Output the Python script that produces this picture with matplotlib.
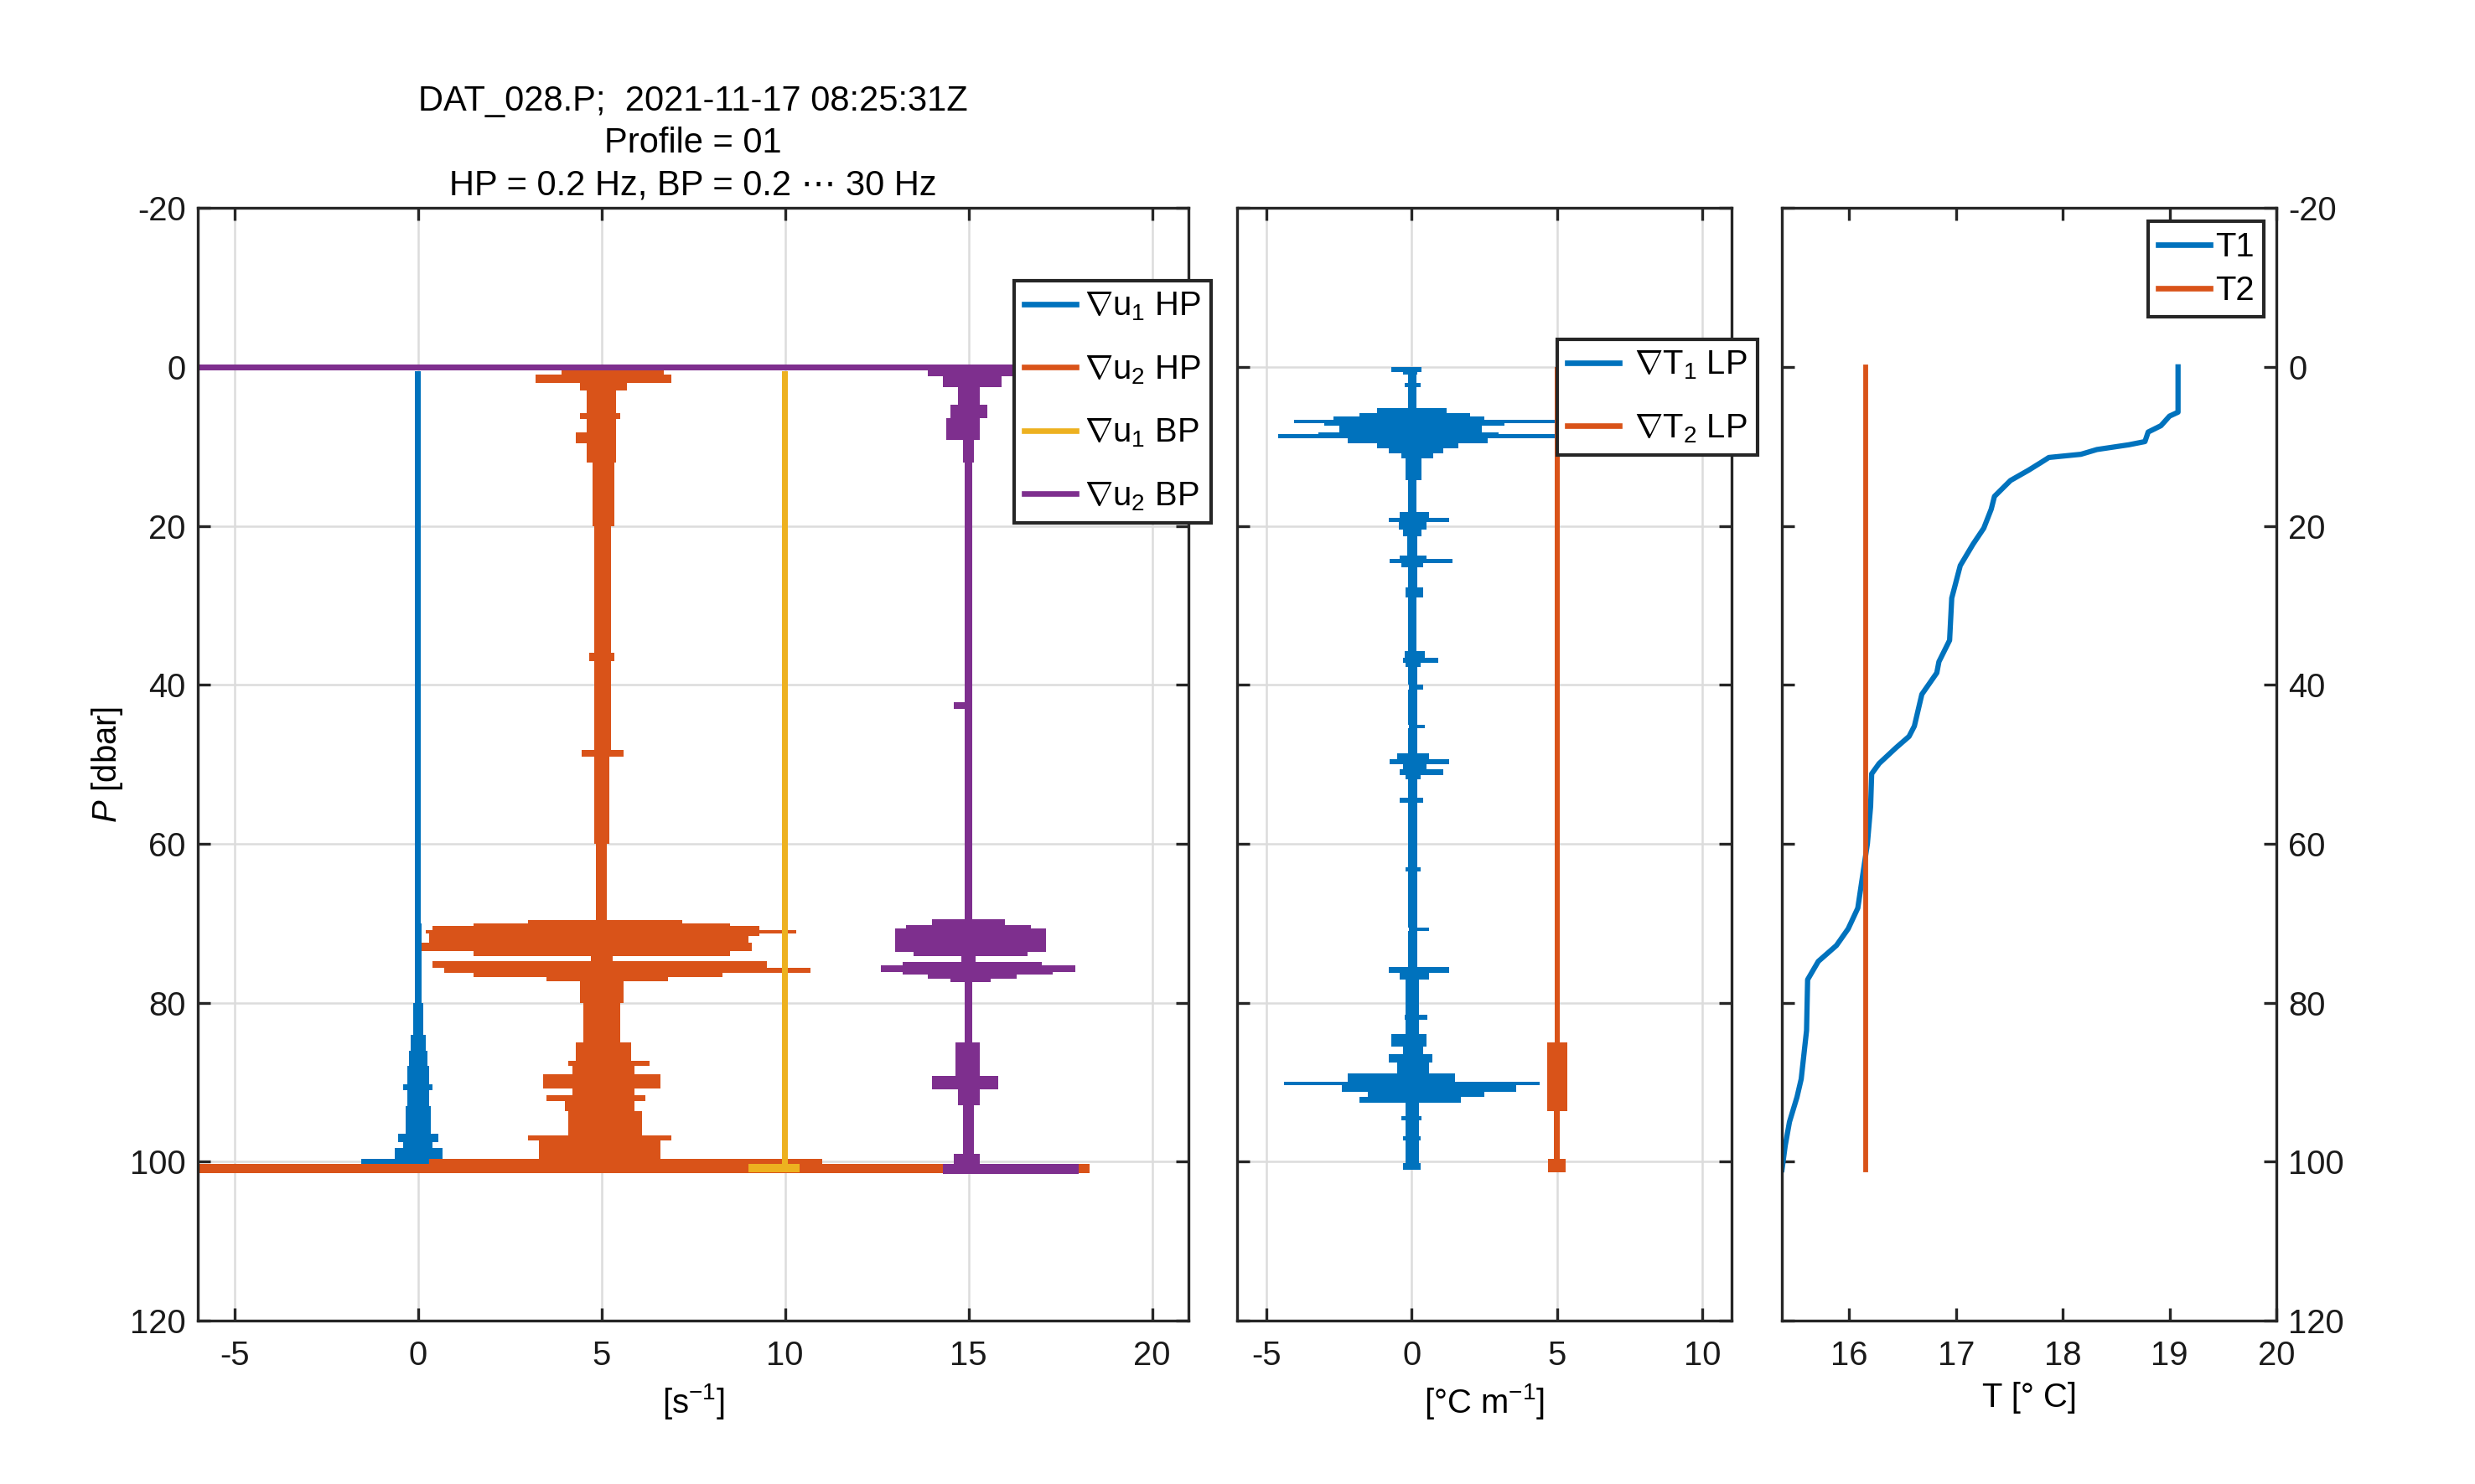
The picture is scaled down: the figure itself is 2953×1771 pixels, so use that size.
import numpy as np
import matplotlib
matplotlib.use('Agg')
import matplotlib.pyplot as plt
from matplotlib.lines import Line2D

plt.rcParams['font.family'] = ['Liberation Sans', 'DejaVu Sans']
plt.rcParams['mathtext.fontset'] = 'custom'
plt.rcParams['mathtext.rm'] = 'Liberation Sans'
plt.rcParams['mathtext.it'] = 'Liberation Sans:italic'
plt.rcParams['mathtext.fallback'] = 'cm'
plt.rcParams['axes.unicode_minus'] = False
plt.rcParams['font.size'] = 9.6

# cores padrao do MATLAB
C_BLUE = '#0072BD'
C_ORANGE = '#D95319'
C_YELLOW = '#EDB120'
C_PURPLE = '#7E2F8E'
C_AX = '#262626'

# --- dados (envelopes: inicio de cada trecho em P, limites esq./dir.) ---

# gradiente de cisalhamento, u1 HP (offset 0)
p_u1hp = [0.5, 70, 80, 84, 86, 88, 90.3, 91, 93, 96.5, 97.5, 98.3, 99.7, 100.4]
lo_u1hp = [-0.08, -0.1, -0.14, -0.2, -0.25, -0.3, -0.4, -0.3, -0.35, -0.54, -0.4, -0.63, -1.55]
hi_u1hp = [0.08, 0.1, 0.14, 0.2, 0.25, 0.3, 0.4, 0.3, 0.35, 0.54, 0.4, 0.66, 0.66]

# u2 HP (offset 5)
p_u2hp = [0.2, 1.0, 2.0, 3.0, 5.8, 6.6, 8.2, 9.6, 12, 20, 36, 37, 48.2, 49, 60, 69.6,
          70.0, 70.3, 70.9, 71.3, 71.6, 72.4, 73.5, 74.1, 74.8, 75.6, 76.2, 76.8, 77.3,
          80, 85, 87.3, 88, 89, 90.8, 91.6, 92.4, 93.6, 96.7, 97.3, 99.7, 100.3, 101.4]
lo_u2hp = [3.9, 3.2, 4.4, 4.6, 4.4, 4.6, 4.3, 4.6, 4.75, 4.8, 4.65, 4.8, 4.45, 4.8, 4.85, 3.0,
           1.5, 0.4, 0.2, 0.3, 0.3, 0.1, 1.5, 4.7, 0.4, 0.7, 1.5, 3.5, 4.4,
           4.5, 4.3, 4.1, 4.2, 3.4, 4.2, 3.5, 4.0, 4.1, 3.0, 3.3, 0.3, -30]
hi_u2hp = [6.7, 6.9, 5.7, 5.4, 5.5, 5.4, 5.4, 5.4, 5.35, 5.25, 5.35, 5.25, 5.6, 5.2, 5.15, 7.2,
           8.5, 9.3, 10.3, 9.3, 9.0, 9.1, 8.5, 5.3, 9.5, 10.7, 8.3, 6.8, 5.6,
           5.5, 5.8, 6.3, 5.9, 6.6, 5.9, 6.2, 5.9, 6.1, 6.9, 6.6, 11.0, 18.3]

# u1 BP (offset 10)
p_u1bp = [0.5, 100.3, 101.3]
lo_u1bp = [9.92, 9.0]
hi_u1bp = [10.08, 10.4]

# u2 BP (offset 15)
p_u2bp = [-0.3, 0.45, 1.2, 2.5, 4.8, 6.5, 9.2, 12, 42.2, 43, 69.5, 70.2, 70.7, 73.6, 74.1,
          74.9, 75.3, 76.1, 76.5, 77.0, 77.4, 85, 89.2, 90.9, 92.9, 99, 100.3, 101.5]
lo_u2bp = [-30, 13.9, 14.3, 14.7, 14.5, 14.4, 14.85, 14.9, 14.6, 14.9, 14.0, 13.3, 13.0, 13.5,
           14.8, 13.2, 12.6, 13.2, 13.9, 14.5, 14.9, 14.65, 14.0, 14.7, 14.85, 14.6, 14.3]
hi_u2bp = [16.2, 16.2, 15.9, 15.3, 15.5, 15.3, 15.15, 15.1, 15.1, 15.1, 16.0, 16.7, 17.1, 16.6,
           15.2, 17.0, 17.9, 17.3, 16.3, 15.6, 15.1, 15.3, 15.8, 15.3, 15.15, 15.3, 18.0]

# gradiente de temperatura, T1 LP (offset 0)
p_t1lp = [0, 0.6, 1.0, 2.0, 2.6, 5.2, 5.8, 6.2, 6.7, 7.1, 7.4, 8.2, 8.5, 9.0, 9.6, 10.2,
          10.9, 11.5, 14.3, 18.3, 19.0, 19.5, 20.5, 21.3, 23.7, 24.2, 24.7, 25.2, 27.7,
          29, 35.8, 36.6, 37.2, 37.8, 40, 40.6, 45, 45.5, 48.6, 49.4, 50.0, 50.6, 51.4,
          51.9, 54.2, 54.8, 63, 63.5, 70.5, 71.0, 75.5, 76.2, 77.1, 81.5, 82.1, 83.9,
          85.5, 86.5, 87.5, 88.9, 89.9, 90.4, 91.2, 91.9, 92.6, 94.3, 94.8, 96.8, 97.3,
          100.2, 101]
lo_t1lp = [-0.7, -0.3, -0.12, -0.25, -0.12, -1.2, -1.8, -2.7, -4.05, -3.0, -2.5, -3.2,
           -4.6, -2.2, -1.2, -0.8, -0.35, -0.2, -0.12, -0.4, -0.8, -0.45, -0.3, -0.15,
           -0.4, -0.75, -0.35, -0.12, -0.2, -0.12, -0.25, -0.3, -0.2, -0.12, -0.1,
           -0.12, -0.1, -0.12, -0.5, -0.75, -0.3, -0.4, -0.2, -0.12, -0.4, -0.12, -0.2,
           -0.12, -0.1, -0.12, -0.8, -0.4, -0.2, -0.25, -0.2, -0.7, -0.3, -0.8, -0.5,
           -2.2, -4.4, -2.4, -1.5, -1.8, -0.2, -0.35, -0.2, -0.3, -0.2, -0.3]
hi_t1lp = [0.33, 0.2, 0.15, 0.3, 0.15, 1.2, 2.0, 2.5, 4.97, 3.2, 2.4, 3.0,
           4.97, 2.6, 1.6, 1.1, 0.75, 0.35, 0.15, 0.6, 1.3, 0.5, 0.35, 0.2,
           0.5, 1.4, 0.4, 0.2, 0.4, 0.15, 0.45, 0.9, 0.3, 0.18, 0.4,
           0.18, 0.45, 0.18, 0.6, 1.3, 0.5, 1.1, 0.3, 0.18, 0.4, 0.18, 0.3,
           0.18, 0.6, 0.18, 1.3, 0.6, 0.25, 0.55, 0.25, 0.5, 0.4, 0.7, 0.6,
           1.5, 4.4, 3.6, 2.5, 1.7, 0.25, 0.35, 0.25, 0.3, 0.25, 0.3]

# T2 LP (offset 5)
p_t2lp = [0, 85, 93.6, 99.7, 101.3]
lo_t2lp = [4.92, 4.65, 4.9, 4.7]
hi_t2lp = [5.08, 5.35, 5.1, 5.3]

# temperatura
P_T1 = [0, 5.7, 6.2, 7.4, 8.2, 9.4, 9.8, 10.4, 11.0, 11.4, 12.0, 13.0, 14.3, 16.3, 17.9,
        20.3, 22.3, 25.0, 29.1, 34.4, 37.1, 38.5, 41.2, 45.2, 46.5, 47.9, 49.9, 51.2,
        55.3, 60, 62.7, 68.1, 70.7, 72.8, 74.8, 77.1, 83.5, 89.6, 91.9, 95, 98, 101]
T1 = [19.08, 19.08, 19.0, 18.92, 18.8, 18.77, 18.62, 18.32, 18.17, 17.87, 17.8, 17.68,
      17.51, 17.36, 17.33, 17.26, 17.16, 17.04, 16.96, 16.94, 16.84, 16.82, 16.68, 16.61,
      16.56, 16.44, 16.28, 16.21, 16.2, 16.17, 16.14, 16.08, 15.99, 15.88, 15.71, 15.61,
      15.6, 15.55, 15.51, 15.44, 15.40, 15.37]
P_T2 = [0, 101]
T2 = [16.15, 16.15]

titulo = 'DAT_028.P;  2021-11-17 08:25:31Z\nProfile = 01\nHP = 0.2 Hz, BP = 0.2 \u22ef 30 Hz'
yticks = [-20, 0, 20, 40, 60, 80, 100, 120]


def envelope(ax, p, lo, hi, color):
    y = np.asarray(p, float)
    x1 = np.append(lo, lo[-1])
    x2 = np.append(hi, hi[-1])
    ax.fill_betweenx(y, x1, x2, step='post', color=color, lw=0)


def estilo(ax):
    ax.set_ylim(120, -20)
    ax.set_yticks(yticks)
    ax.tick_params(direction='in', length=3.5, width=0.8, top=True, right=True,
                   colors=C_AX, labelcolor='#1a1a1a', labelsize=9.6)
    ax.tick_params(axis='x', pad=5.5)
    ax.tick_params(axis='y', pad=3.5)
    for s in ax.spines.values():
        s.set_color(C_AX)
        s.set_linewidth(0.8)


def legenda(ax, handles, labels, anchor, textpad):
    leg = ax.legend(handles, labels, loc='upper right', bbox_to_anchor=anchor,
                    bbox_transform=fig.transFigure, borderaxespad=0, fancybox=False,
                    edgecolor=C_AX, framealpha=1, handlelength=1.55,
                    handletextpad=textpad, borderpad=0.3, labelspacing=0.92)
    leg.get_frame().set_linewidth(1.0)
    return leg


fig = plt.figure(figsize=(2953 / 300, 1771 / 300), dpi=300)
bot, alt = 0.1101, 0.7498
ax1 = fig.add_axes([0.0800, bot, 0.4003, alt])
ax2 = fig.add_axes([0.4999, bot, 0.1997, alt])
ax3 = fig.add_axes([0.7200, bot, 0.1997, alt])

# --- painel 1: cisalhamento ---
envelope(ax1, p_u1hp, lo_u1hp, hi_u1hp, C_BLUE)
envelope(ax1, p_u2hp, lo_u2hp, hi_u2hp, C_ORANGE)
envelope(ax1, p_u1bp, lo_u1bp, hi_u1bp, C_YELLOW)
envelope(ax1, p_u2bp, lo_u2bp, hi_u2bp, C_PURPLE)
ax1.set_xlim(-6, 21)
ax1.set_xticks([-5, 0, 5, 10, 15, 20])
estilo(ax1)
ax1.grid(True, color='#dcdcdc', lw=0.6)
ax1.set_axisbelow(True)
ax1.set_ylabel(r'$P$ [dbar]', labelpad=1.5)
ax1.set_xlabel(r'[$\mathrm{s}^{-1}$]', labelpad=3)
ax1.set_title(titulo, pad=3.8, linespacing=1.33, fontsize=10)

h1 = [Line2D([], [], color=c, lw=1.6) for c in [C_BLUE, C_ORANGE, C_YELLOW, C_PURPLE]]
l1 = [r'$\nabla\mathrm{u}_1$ HP', r'$\nabla\mathrm{u}_2$ HP',
      r'$\nabla\mathrm{u}_1$ BP', r'$\nabla\mathrm{u}_2$ BP']
legenda(ax1, h1, l1, (0.4892, 0.8110), 0.25)

# --- painel 2: gradiente de temperatura ---
envelope(ax2, p_t1lp, lo_t1lp, hi_t1lp, C_BLUE)
envelope(ax2, p_t2lp, lo_t2lp, hi_t2lp, C_ORANGE)
ax2.set_xlim(-6, 11)
ax2.set_xticks([-5, 0, 5, 10])
estilo(ax2)
ax2.tick_params(labelleft=False)
ax2.grid(True, color='#dcdcdc', lw=0.6)
ax2.set_axisbelow(True)
ax2.set_xlabel(r'[°C $\mathrm{m}^{-1}$]', labelpad=3)

h2 = [Line2D([], [], color=c, lw=1.6) for c in [C_BLUE, C_ORANGE]]
l2 = [r'$\nabla\mathrm{T}_1$ LP', r'$\nabla\mathrm{T}_2$ LP']
legenda(ax2, h2, l2, (0.7100, 0.7715), 0.45)

# --- painel 3: temperatura ---
ax3.plot(T1, P_T1, color=C_BLUE, lw=1.5)
ax3.plot(T2, P_T2, color=C_ORANGE, lw=1.4)
ax3.set_xlim(15.37, 20)
ax3.set_xticks([16, 17, 18, 19, 20])
estilo(ax3)
ax3.tick_params(labelleft=False, labelright=True)
ax3.set_xlabel('T [° C]', labelpad=3)
h3 = [Line2D([], [], color=c, lw=1.6) for c in [C_BLUE, C_ORANGE]]
leg3 = ax3.legend(h3, ['T1', 'T2'], loc='upper right', bbox_to_anchor=(0.9148, 0.8508),
                  bbox_transform=fig.transFigure, borderaxespad=0, fancybox=False,
                  edgecolor=C_AX, framealpha=1, handlelength=1.55, handletextpad=0.15,
                  borderpad=0.3, labelspacing=0.35)
leg3.get_frame().set_linewidth(1.0)

fig.savefig('out.png', dpi=300)
